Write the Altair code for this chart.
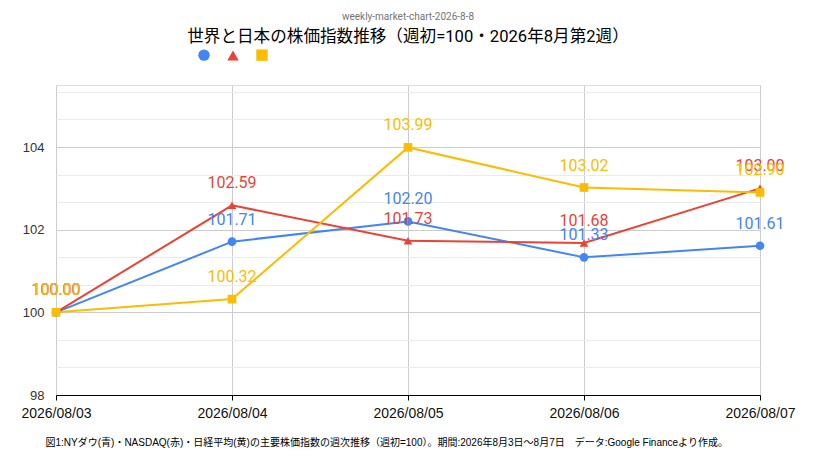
import altair as alt
import pandas as pd

DATES = ["2026/08/03", "2026/08/04", "2026/08/05", "2026/08/06", "2026/08/07"]
SERIES = ["NYダウ", "NASDAQ", "日経平均"]
DOW = [100.00, 101.71, 102.20, 101.33, 101.61]
NASDAQ = [100.00, 102.59, 101.73, 101.68, 103.00]
NIKKEI = [100.00, 100.32, 103.99, 103.02, 102.90]
COLORS = ["#4285F4", "#EA4335", "#FBBC04"]
SHAPES = ["circle", "triangle-up", "square"]
GRID_TICKS = [round(98 + i * 2 / 3, 4) for i in range(12)]

TITLE = "世界と日本の株価指数推移（週初=100・2026年8月第2週）"
TOP_NOTE = "weekly-market-chart-2026-8-8"
CAPTION = ("図1:NYダウ(青)・NASDAQ(赤)・日経平均(黄)の主要株価指数の週次推移（週初=100）。"
           "期間:2026年8月3日～8月7日　データ:Google Financeより作成。")
FONT = "Roboto, 'Noto Sans CJK JP', sans-serif"
IS_MAJOR = "abs(datum.value - round(datum.value)) < 0.01"

rows = []
for name, vals in zip(SERIES, [DOW, NASDAQ, NIKKEI]):
    for d, v in zip(DATES, vals):
        rows.append({"date": d, "series": name, "value": v})
df = pd.DataFrame(rows)

x_enc = alt.X("date:O", scale=alt.Scale(type="point", padding=0),
              axis=alt.Axis(title=CAPTION, titleFont="'Liberation Sans', 'Noto Sans CJK JP', sans-serif",
                            titleFontSize=10, titleFontWeight="normal", titleColor="#000",
                            titleAnchor="start", titleAlign="left", titleX=-11, titleY=42,
                            labelAngle=0, labelFontSize=14, labelColor="#111", labelPadding=6,
                            domainColor="#000", tickColor="#000", tickSize=5,
                            grid=True, gridColor="#cccccc"))
y_enc = alt.Y("value:Q", scale=alt.Scale(domain=[98, 105.5], nice=False, zero=False),
              axis=alt.Axis(title=None, values=GRID_TICKS, tickCount=30, format=".0f",
                            labelFontSize=13, labelColor="#333",
                            labelExpr=f"{IS_MAJOR} ? datum.label : ''",
                            labelOverlap=False, domain=False, ticks=False, labelPadding=12,
                            gridColor={"condition": {"test": IS_MAJOR, "value": "#cccccc"},
                                       "value": "#ebebeb"}))
color_enc = alt.Color("series:N", scale=alt.Scale(domain=SERIES, range=COLORS),
                      legend=alt.Legend(title=None, orient="none", legendX=142, legendY=-36,
                                        direction="horizontal", labelExpr="''", labelOffset=0,
                                        columnPadding=17, symbolSize=130, symbolStrokeWidth=0))
shape_enc = alt.Shape("series:N", scale=alt.Scale(domain=SERIES, range=SHAPES))

base = alt.Chart(df)

lines = base.mark_line(strokeWidth=2).encode(
    x=x_enc, y=y_enc, color=color_enc, detail="series:N",
)

points = base.mark_point(filled=True, size=75, opacity=1).encode(
    x="date:O", y="value:Q", color=color_enc, shape=shape_enc,
)

labels = base.mark_text(dy=-22, fontSize=16, font=FONT).encode(
    x="date:O", y="value:Q",
    text=alt.Text("value:Q", format=".2f"),
    color=color_enc,
)

chart = alt.layer(lines, points, labels).properties(
    width=704,
    height=310,
    autosize=alt.AutoSizeParams(type="none"),
    padding={"left": 48, "top": 77, "right": 54, "bottom": 65},
    title=alt.TitleParams(text=TOP_NOTE, subtitle=TITLE, anchor="middle", offset=3,
                          fontSize=10, fontWeight="normal", color="#757575", font=FONT,
                          subtitleFontSize=16.6, subtitleColor="#000", subtitleFont=FONT,
                          subtitlePadding=7),
).configure_view(stroke=None).configure_axis(labelFont=FONT).configure(background="white")

chart.save("out.html", embed_options={"renderer": "svg", "actions": False})
